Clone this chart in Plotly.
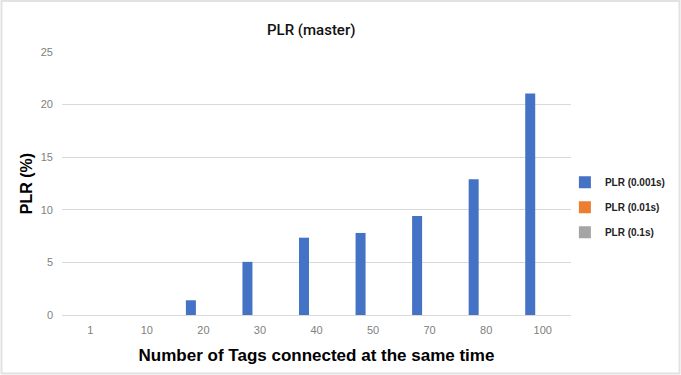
import plotly.graph_objects as go

categories = ["1", "10", "20", "30", "40", "50", "70", "80", "100"]
plr_0001 = [0, 0, 1.4, 5.05, 7.35, 7.8, 9.4, 12.9, 21.05]
plr_001 = [0, 0, 0, 0, 0, 0, 0, 0, 0]
plr_01 = [0, 0, 0, 0, 0, 0, 0, 0, 0]
series_names = ["PLR (0.001s)", "PLR (0.01s)", "PLR (0.1s)"]
colors = ["#4472C4", "#ED7D31", "#A5A5A5"]

fig = go.Figure()
for name, vals, col in zip(series_names, [plr_0001, plr_001, plr_01], colors):
    fig.add_trace(go.Bar(x=categories, y=vals, name=name, marker_color=col,
                         marker_line_width=0, legendgroup=name))

fig.update_layout(
    width=681, height=375,
    margin=dict(l=62, r=110, t=52, b=60, autoexpand=False),
    paper_bgcolor="white", plot_bgcolor="white",
    barmode="group", bargap=0.337, bargroupgap=0.2,
    title=dict(text="PLR (master)", x=0.457, xanchor="center", y=0.92, yanchor="middle",
               font=dict(family="Roboto", size=15, color="#111111", weight=500)),
    legend=dict(x=0.988, xanchor="left", y=0.41, yanchor="middle",
                font=dict(family="Liberation Sans", size=10, color="#222222", weight="bold"),
                tracegroupgap=6, bgcolor="rgba(0,0,0,0)", itemwidth=30),
    showlegend=True,
)
fig.update_xaxes(
    type="category", showgrid=False, showline=False, ticks="", ticklabelstandoff=7,
    tickfont=dict(family="Liberation Sans", size=11, color="#808080"),
    title=dict(text="Number of Tags connected at the same time", standoff=14,
               font=dict(family="Liberation Sans", size=17, color="#000000", weight="bold")),
)
fig.update_yaxes(
    range=[0, 25], dtick=5, showgrid=True, gridcolor="#d9d9d9", gridwidth=1,
    zeroline=True, zerolinecolor="#d9d9d9", zerolinewidth=1, showline=False,
    ticks="", ticklabelstandoff=8,
    tickfont=dict(family="Liberation Sans", size=11, color="#808080"),
    title=dict(text="PLR (%)", standoff=4,
               font=dict(family="Liberation Sans", size=16, color="#000000", weight="bold")),
)
fig.add_shape(type="rect", xref="paper", yref="paper", x0=-0.1189, x1=1.2132, y0=-0.2224, y1=1.1939,
              line=dict(color="#e2e2e2", width=2), fillcolor="rgba(0,0,0,0)", layer="below")

fig.write_html("out.html", config={"displayModeBar": False},
               post_script="document.body.style.margin='0';document.body.style.padding='0';")
